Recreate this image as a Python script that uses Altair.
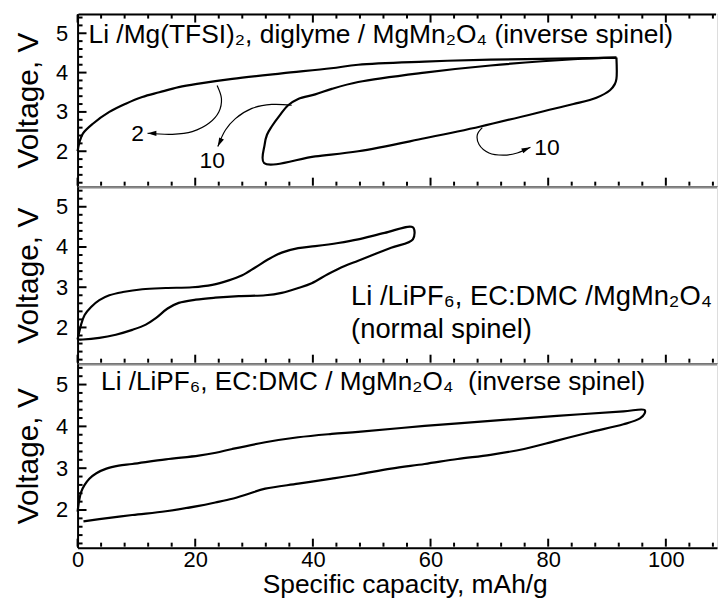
import altair as alt
import pandas as pd

FONT = "Liberation Sans"
W = 643
HEIGHTS = [174, 178, 185]
XDOM = [0, 108.7]
YDOM = [1.1, 5.5]

# ---------------- data ----------------
# Panel 1: Li / Mg(TFSI)2, diglyme / MgMn2O4 (inverse spinel)
p1_c2_x = [0, 0.3, 0.9, 2.6, 5.4, 8.2, 11.0, 13.9, 17.2, 20.6, 26.3, 34.7, 43.1, 47.7, 59, 70.2, 84.3, 91.6]
p1_c2_v = [2.0, 2.22, 2.45, 2.70, 3.0, 3.21, 3.38, 3.50, 3.63, 3.72, 3.84, 3.98, 4.11, 4.20, 4.28, 4.33, 4.36, 4.38]
p1_c10_x = [91.6, 91.6, 91.3, 90.5, 88.2, 84.3, 81.5, 68.5, 59, 47.7, 40.4, 31.7,
            31.8, 32.2, 33.0, 34.4, 35.8, 37.5, 40.4, 43.2, 47.7, 59, 70.2, 84.3, 91.6]
p1_c10_v = [4.38, 3.84, 3.70, 3.55, 3.36, 3.20, 3.10, 2.63, 2.33, 2.0, 1.87, 1.70,
            2.17, 2.42, 2.63, 2.92, 3.17, 3.33, 3.445, 3.585, 3.76, 4.0, 4.18, 4.34, 4.38]

# Panel 2: Li / LiPF6, EC:DMC / MgMn2O4 (normal spinel)
p2_x = [0, 0.6, 1.2, 2.3, 3.7, 5.4, 7.7, 11.0, 15.0, 19.5, 22.9, 25.7, 27.9, 30.2, 32.5, 34.7, 37.5,
        40.4, 44.3, 47.7, 52.2, 57.0, 57.0, 53.3, 47.7, 45.4, 42.6, 39.8, 37.5, 34.7, 31.9, 27.4,
        23.4, 20.1, 17.2, 15.3, 13.3, 11.6, 9.3, 6.5, 3.7, 0.9, 0]
p2_v = [1.70, 2.07, 2.31, 2.51, 2.68, 2.80, 2.88, 2.95, 2.98, 3.0, 3.06, 3.17, 3.29, 3.49, 3.70, 3.86, 3.97,
        4.02, 4.10, 4.19, 4.35, 4.49, 4.19, 3.98, 3.66, 3.53, 3.33, 3.10, 2.98, 2.86, 2.80, 2.78,
        2.74, 2.69, 2.61, 2.47, 2.23, 2.07, 1.94, 1.82, 1.74, 1.70, 1.70]

# Panel 3: Li / LiPF6, EC:DMC / MgMn2O4 (inverse spinel)
p3_x = [0, 0.3, 0.6, 1.2, 2.0, 3.2, 4.9, 7.0, 9.3, 15.0, 20.6, 23.5, 26.3, 31.9, 37.5, 43.2, 47.7,
        59, 70.2, 81.5, 92.8, 96.4, 96.4, 95.6, 92.8, 87.1, 81.5, 75.9, 70.2, 64.6, 59, 53.3, 47.7,
        43.2, 37.5, 31.9, 29.1, 26.3, 23.4, 20.6, 15.0, 9.3, 3.7, 1.0]
p3_v = [1.96, 2.25, 2.43, 2.60, 2.75, 2.88, 2.99, 3.06, 3.10, 3.21, 3.30, 3.37, 3.46, 3.62, 3.74, 3.82, 3.87,
        4.01, 4.13, 4.25, 4.36, 4.39, 4.31, 4.19, 4.05, 3.86, 3.66, 3.46, 3.32, 3.22, 3.10, 2.99, 2.85,
        2.75, 2.63, 2.51, 2.39, 2.27, 2.18, 2.10, 1.97, 1.88, 1.78, 1.73]

# Curved arrows (panel 1)
arrow2_x = [23.72, 24.46, 24.01, 22.32, 19.49, 16.11, 11.89]
arrow2_v = [3.673, 3.337, 3.0, 2.71, 2.50, 2.43, 2.457]
arrow10a_x = [36.4, 33.0, 29.64, 26.83, 25.14, 23.84]
arrow10a_v = [3.17, 3.19, 3.09, 2.83, 2.54, 2.12]
arrow10b_x = [68.8, 67.96, 68.25, 69.94, 72.48, 74.73, 76.98]
arrow10b_v = [2.60, 2.42, 2.17, 1.955, 1.90, 1.955, 2.10]

# Cycle labels (panel 1)
cycle_labels = ["2", "10", "10"]
cycle_label_x = [10.19, 22.88, 79.8]
cycle_label_v = [2.45, 1.76, 2.08]

# Panel captions
captions = [
    ["Li /Mg(TFSI)\u2082, diglyme / MgMn\u2082O\u2084 (inverse spinel)"],
    ["Li /LiPF\u2086, EC:DMC /MgMn\u2082O\u2084", "(normal spinel)"],
    ["Li /LiPF\u2086, EC:DMC / MgMn\u2082O\u2084 \u00a0(inverse spinel)"],
]
caption_x = [[1.86], [46.5, 46.5], [4.0]]
caption_v = [[4.75], [2.555, 1.75], [4.88]]
caption_size = [26.5, 27.5, 26.3]

# Axis ticks
x_major = [0, 20, 40, 60, 80, 100]
x_minor = [4, 8, 12, 16, 24, 28, 32, 36, 44, 48, 52, 56, 64, 68, 72, 76, 84, 88, 92, 96, 104, 108]
y_major = [2, 3, 4, 5]
y_minor = [1.2, 1.4, 1.6, 1.8, 2.2, 2.4, 2.6, 2.8, 3.2, 3.4, 3.6, 3.8, 4.2, 4.4, 4.6, 4.8, 5.2, 5.4]

MAJOR_PX, MINOR_PX = 9, 5
TICK_W = 2
INSET = TICK_W / 2  # keep stroke bounds inside the plot so the layout is not pushed


def frame(xs, vs, series):
    return pd.DataFrame({"x": xs, "y": vs, "s": series, "o": list(range(len(xs)))})


def segments(x0, y0, x1, y1, prefix):
    rows = []
    for i, (a, b, c, d) in enumerate(zip(x0, y0, x1, y1)):
        rows.append({"x": a, "y": b, "s": f"{prefix}{i}", "o": 0})
        rows.append({"x": c, "y": d, "s": f"{prefix}{i}", "o": 1})
    return pd.DataFrame(rows)


def tick_frame(h, top):
    xu = (XDOM[1] - XDOM[0]) / W        # data units per pixel (x)
    yu = (YDOM[1] - YDOM[0]) / h        # data units per pixel (y)
    ys = y_major + y_minor
    ylen = [MAJOR_PX * xu] * len(y_major) + [MINOR_PX * xu] * len(y_minor)
    xs = x_major + x_minor
    xlen = [MAJOR_PX * yu] * len(x_major) + [MINOR_PX * yu] * len(x_minor)
    x_in = XDOM[0] + INSET * xu
    y_lo = YDOM[0] + INSET * yu
    y_hi = YDOM[1] - INSET * yu
    parts = [
        segments([x_in] * len(ys), ys, [XDOM[0] + L for L in ylen], ys, "yt"),
        segments(xs, [y_lo] * len(xs), xs, [YDOM[0] + L for L in xlen], "xt"),
    ]
    if top:
        parts.append(segments(xs, [y_hi] * len(xs), xs, [YDOM[1] - L for L in xlen], "tt"))
        parts.append(segments([x_in], [y_hi], [XDOM[1] - INSET * xu], [y_hi], "top"))
    return pd.concat(parts, ignore_index=True)


xscale = alt.Scale(domain=XDOM, nice=False, zero=False)
yscale = alt.Scale(domain=YDOM, nice=False, zero=False)


def x_axis(bottom):
    common = dict(values=x_major, ticks=False, tickSize=0, grid=False, domainWidth=2,
                  domainColor="black")
    if bottom:
        return alt.Axis(labels=True, labelFlush=False, labelPadding=19,
                        labelBaseline="alphabetic", labelFontSize=22,
                        labelFont=FONT, labelColor="black", title="Specific capacity, mAh/g",
                        titleFont=FONT, titleFontSize=26.5, titleFontWeight="normal",
                        titleColor="black", titleBaseline="alphabetic", titleX=329, titleY=45,
                        **common)
    return alt.Axis(labels=False, title=None, **common)


y_axis = alt.Axis(values=y_major, ticks=False, tickSize=0, grid=False, domainWidth=2,
                  domainColor="black", labelPadding=10, labelFontSize=22, labelFont=FONT,
                  labelColor="black", format="d", title="Voltage, V", titleFont=FONT,
                  titleFontSize=30, titleFontWeight="normal", titleColor="black",
                  titlePadding=12)


def panel(idx, curves, bottom, top_ticks=False, extras=None):
    h = HEIGHTS[idx]
    X = lambda: alt.X("x:Q", scale=xscale, axis=x_axis(bottom))
    Y = lambda: alt.Y("y:Q", scale=yscale, axis=y_axis)

    layers = [
        alt.Chart(curves).mark_line(color="black", strokeWidth=2.2, strokeJoin="round",
                                    interpolate="catmull-rom").encode(
            x=X(), y=Y(), detail="s:N", order="o:Q"),
        alt.Chart(tick_frame(h, top_ticks)).mark_line(color="black", strokeWidth=TICK_W,
                                                      strokeCap="butt").encode(
            x=X(), y=Y(), detail="s:N", order="o:Q"),
    ]

    cap = pd.DataFrame({"x": caption_x[idx], "y": caption_v[idx], "t": captions[idx]})
    layers.append(alt.Chart(cap).mark_text(align="left", baseline="alphabetic", font=FONT,
                                           fontSize=caption_size[idx], color="black").encode(
        x=X(), y=Y(), text="t:N"))
    if extras:
        layers.extend(extras(X, Y))
    return alt.layer(*layers).properties(width=W, height=h)


def panel1_extras(X, Y):
    arrows = pd.concat([
        frame(arrow2_x, arrow2_v, "a2"),
        frame(arrow10a_x, arrow10a_v, "a10a"),
        frame(arrow10b_x, arrow10b_v, "a10b"),
    ])
    heads = pd.DataFrame({
        "x": [arrow2_x[-1], arrow10a_x[-1], arrow10b_x[-1]],
        "y": [arrow2_v[-1], arrow10a_v[-1], arrow10b_v[-1]],
        "ang": [0, 295, 157],
    })
    labels = pd.DataFrame({"x": cycle_label_x, "y": cycle_label_v, "t": cycle_labels})
    return [
        alt.Chart(arrows).mark_line(color="black", strokeWidth=1.2, interpolate="catmull-rom").encode(
            x=X(), y=Y(), detail="s:N", order="o:Q"),
        alt.Chart(heads).mark_point(shape="M0,0L1.7,-0.5L1.7,0.5Z", filled=True, size=110,
                                    color="black", opacity=1).encode(
            x=X(), y=Y(), angle=alt.Angle("ang:Q", scale=None)),
        alt.Chart(labels).mark_text(font=FONT, fontSize=23, color="black", baseline="middle",
                                    align="center").encode(x=X(), y=Y(), text="t:N"),
    ]


c1 = pd.concat([frame(p1_c2_x, p1_c2_v, "c2"), frame(p1_c10_x, p1_c10_v, "c10")])
c2 = frame(p2_x, p2_v, "n")
c3 = frame(p3_x, p3_v, "i")

chart = alt.vconcat(
    panel(0, c1, False, top_ticks=True, extras=panel1_extras),
    panel(1, c2, False),
    panel(2, c3, True),
    spacing=0,
    bounds="flush",
).properties(
    padding={"left": 13, "top": 8, "right": 0, "bottom": 4}
).configure_view(stroke=None).configure(background="white")

chart.save("out.html", embed_options={"renderer": "svg", "actions": False})
